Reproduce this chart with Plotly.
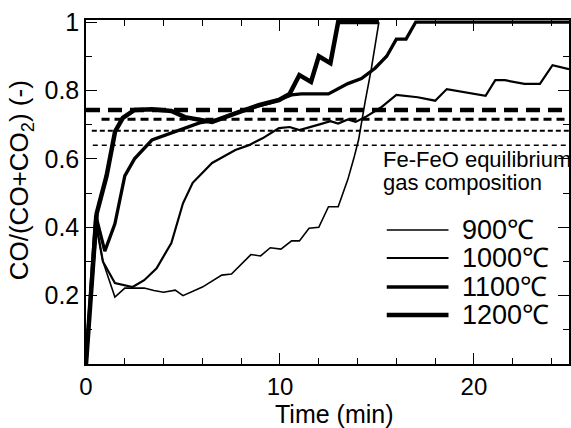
import plotly.graph_objects as go

# ---- data ----
temps = ["900℃", "1000℃", "1100℃", "1200℃"]
widths = [1.6, 2.2, 3.3, 4.5]

t_900 = [0, 0.55, 0.87, 1.49, 2.0, 3.0, 3.5, 4.0, 4.6, 5.0, 6.0, 7.0, 7.5, 8.5, 9.0, 9.5,
         10.05, 10.6, 11.0, 11.5, 12.0, 12.5, 13.0, 13.5, 13.8, 14.05, 14.4, 14.7, 15.1]
y_900 = [0, 0.40, 0.30, 0.196, 0.222, 0.222, 0.215, 0.21, 0.216, 0.20, 0.225, 0.26, 0.263,
         0.32, 0.316, 0.34, 0.336, 0.36, 0.36, 0.397, 0.40, 0.46, 0.46, 0.54, 0.60, 0.655,
         0.77, 0.86, 1.0]

t_1000 = [0, 0.55, 0.87, 1.49, 2.4, 3.0, 3.64, 4.4, 5.0, 5.5, 6.5, 7.7, 8.4, 9.1, 9.95,
          10.5, 11.0, 11.5, 12.0, 12.6, 13.0, 13.5, 13.9, 14.4, 15.2, 16.0, 17.1, 18.0,
          18.6, 20.6, 21.1, 21.6, 22.6, 23.4, 24.05, 24.9]
y_1000 = [0, 0.40, 0.30, 0.237, 0.225, 0.245, 0.28, 0.354, 0.47, 0.53, 0.588, 0.626, 0.64,
          0.66, 0.69, 0.693, 0.684, 0.693, 0.70, 0.71, 0.703, 0.715, 0.708, 0.722, 0.75,
          0.787, 0.78, 0.77, 0.804, 0.784, 0.83, 0.83, 0.819, 0.819, 0.874, 0.862]

t_1100 = [0, 0.5, 0.97, 1.49, 2.0, 2.5, 3.4, 4.6, 5.85, 6.7, 8.2, 9.6, 10.6, 11.1, 12.5,
          13.5, 14.2, 14.9, 15.5, 16.0, 16.5, 17.0, 25]
y_1100 = [0, 0.435, 0.33, 0.41, 0.55, 0.60, 0.655, 0.68, 0.705, 0.713, 0.743, 0.766, 0.787,
          0.79, 0.79, 0.82, 0.835, 0.865, 0.90, 0.95, 0.95, 1.0, 1.0]

t_1200 = [0, 0.55, 1.06, 1.5, 1.9, 2.5, 3.4, 4.4, 5.1, 6.1, 6.5, 7.7, 8.9, 9.95, 10.5, 11.0,
          11.6, 12.0, 12.6, 13.0, 15.1]
y_1200 = [0, 0.44, 0.55, 0.68, 0.72, 0.743, 0.745, 0.74, 0.722, 0.713, 0.708, 0.733, 0.757,
          0.772, 0.79, 0.845, 0.825, 0.90, 0.88, 1.0, 1.0]

# Fe-FeO equilibrium gas composition per temperature
eq_values = [0.640, 0.682, 0.716, 0.743]
eq_start = [0.35, 0.3, 0.8, 0.0]
eq_end = 25
eq_dash = ["5px,4px", "5px,3px", "8px,5px", "14px,8px"]
eq_width = [1.5, 2.0, 3.0, 4.5]

x_ticks = [0, 10, 20]
y_ticks = [0.2, 0.4, 0.6, 0.8, 1.0]
y_ticktext = ["0.2", "0.4", "0.6", "0.8", "1"]

series_t = [t_900, t_1000, t_1100, t_1200]
series_y = [y_900, y_1000, y_1100, y_1200]

FONT = "Liberation Sans, Arial, Helvetica, sans-serif"

fig = go.Figure()

for i in range(4):
    fig.add_trace(go.Scatter(
        x=[eq_start[i], eq_end], y=[eq_values[i], eq_values[i]], mode="lines",
        line=dict(color="black", width=eq_width[i], dash=eq_dash[i]),
        showlegend=False, hoverinfo="skip"))

for i in range(4):
    fig.add_trace(go.Scatter(
        x=series_t[i], y=series_y[i], mode="lines", name=temps[i],
        line=dict(color="black", width=widths[i]), showlegend=False))

# manual legend (paper coords)
L, B, W, H = 86, 364, 485, 344
def px(xp): return (xp - L) / W
def py(yp): return (B - yp) / H

leg_rows = [230, 258, 287, 315]
for i in range(4):
    fig.add_shape(type="line", xref="paper", yref="paper",
                  x0=px(388), x1=px(450), y0=py(leg_rows[i]), y1=py(leg_rows[i]),
                  line=dict(color="black", width=widths[i]))
    fig.add_annotation(xref="paper", yref="paper", x=px(462), y=py(leg_rows[i]),
                       text=temps[i], showarrow=False, xanchor="left", yanchor="middle",
                       font=dict(family=FONT, size=27, color="black"))

fig.add_annotation(xref="paper", yref="paper", x=px(382), y=py(159),
                   text="Fe-FeO equilibrium", showarrow=False, xanchor="left",
                   yanchor="middle", font=dict(family=FONT, size=22, color="black"))
fig.add_annotation(xref="paper", yref="paper", x=px(382), y=py(183),
                   text="gas composition", showarrow=False, xanchor="left",
                   yanchor="middle", font=dict(family=FONT, size=22, color="black"))

# axis titles
fig.add_annotation(xref="paper", yref="paper", x=px(336), y=py(414),
                   text="Time (min)", showarrow=False, xanchor="center", yanchor="middle",
                   font=dict(family=FONT, size=25, color="black"))
fig.add_annotation(xref="paper", yref="paper", x=px(20), y=py(180),
                   text="CO/(CO+CO<sub>2</sub>) (-)", showarrow=False, textangle=-90,
                   xanchor="center", yanchor="middle",
                   font=dict(family=FONT, size=26, color="black"))

fig.update_layout(
    width=571, height=428,
    margin=dict(l=L, r=0, t=20, b=428 - B),
    paper_bgcolor="white", plot_bgcolor="white",
    showlegend=False,
    font=dict(family=FONT, color="black"),
)
fig.update_xaxes(range=[0, 24.9], tickmode="array", tickvals=x_ticks,
                 ticks="inside", ticklen=11, tickwidth=1.3, tickcolor="black",
                 minor=dict(dtick=2, tick0=0, ticks="inside", ticklen=6, tickwidth=1.2,
                            tickcolor="black"),
                 showline=True, linecolor="black", linewidth=1.5, mirror="allticks",
                 showgrid=False, zeroline=False,
                 tickfont=dict(family=FONT, size=24, color="black"))
fig.update_yaxes(range=[0, 1.006], tickmode="array",
                 tickvals=y_ticks, ticktext=y_ticktext,
                 ticks="inside", ticklen=11, tickwidth=1.3, tickcolor="black",
                 minor=dict(dtick=0.1, tick0=0, ticks="inside", ticklen=6, tickwidth=1.2,
                            tickcolor="black"),
                 showline=True, linecolor="black", linewidth=1.5, mirror="allticks",
                 showgrid=False, zeroline=False,
                 tickfont=dict(family=FONT, size=25, color="black"))

fig.write_html("out.html")
